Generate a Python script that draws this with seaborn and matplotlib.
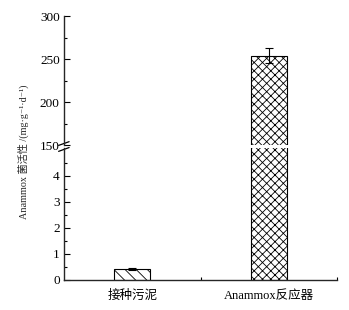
import matplotlib
matplotlib.use("Agg")
import matplotlib.pyplot as plt
import pandas as pd
import seaborn as sns

categories = ["接种污泥", "Anammox反应器"]
activity = [0.42, 254.0]
activity_err = [0.05, 9.0]
hatches = ["\\\\\\", "xxxx"]

df = pd.DataFrame({"group": categories, "activity": activity})

sns.set_style("ticks")
plt.rcParams["font.family"] = ["Liberation Serif", "Noto Sans CJK SC", "DejaVu Serif"]
plt.rcParams["hatch.linewidth"] = 0.6
plt.rcParams["axes.linewidth"] = 1.0

fig = plt.figure(figsize=(3.49, 3.10), dpi=100)
ax_top = fig.add_axes([0.183, 0.532, 0.783, 0.416])
ax_bot = fig.add_axes([0.183, 0.097, 0.783, 0.426])

for ax in (ax_top, ax_bot):
    sns.barplot(data=df, x="group", y="activity", ax=ax, color="white",
                edgecolor="black", linewidth=0.8, width=0.26, errorbar=None)
    for patch, h, err, val in zip(ax.patches, hatches, activity_err, activity):
        patch.set_hatch(h)
        patch.set_facecolor("white")
        xc = patch.get_x() + patch.get_width() / 2
        ax.errorbar(xc, val, yerr=err, color="black", lw=0.8, capsize=3,
                    capthick=0.8, zorder=5)
    ax.set_xlim(-0.5, 1.5)
    ax.set_xlabel("")
    ax.set_ylabel("")

ax_top.set_ylim(150, 300)
ax_top.set_yticks([150, 200, 250, 300])
ax_top.set_yticks([175, 225, 275], minor=True)
ax_top.set_xticks([])
for s in ("top", "right", "bottom"):
    ax_top.spines[s].set_visible(False)

ax_bot.set_ylim(0, 5.08)
ax_bot.set_yticks([0, 1, 2, 3, 4])
ax_bot.set_yticks([0.5, 1.5, 2.5, 3.5, 4.5], minor=True)
ax_bot.set_xticks([0, 1])
ax_bot.set_xticklabels(categories)
ax_bot.set_xticks([0.5, 1.5], minor=True)
for s in ("top", "right"):
    ax_bot.spines[s].set_visible(False)

for ax in (ax_top, ax_bot):
    ax.tick_params(axis="both", which="major", direction="in", length=4,
                   width=0.8, labelsize=9.5, pad=3, color="black")
    ax.tick_params(axis="both", which="minor", direction="in", length=2,
                   width=0.8, color="black")
    for lab in ax.get_xticklabels() + ax.get_yticklabels():
        lab.set_color("black")
ax_bot.tick_params(axis="x", which="major", pad=7, labelsize=9)

# break marks on the left spine
kw = dict(color="black", lw=0.9, clip_on=False)
d = 0.012
ax_top.plot([-d * 1.6, d * 1.6], [-d * 0.2, d * 2.2], transform=ax_top.transAxes, **kw)
ax_bot.plot([-d * 1.6, d * 1.6], [1 - d * 2.2, 1 + d * 0.2], transform=ax_bot.transAxes, **kw)

fig.text(0.066, 0.51, "Anammox 菌活性 /(mg·g⁻¹·d⁻¹)", rotation=90,
         ha="center", va="center", fontsize=7.3)

fig.savefig("out.png", dpi=100)
